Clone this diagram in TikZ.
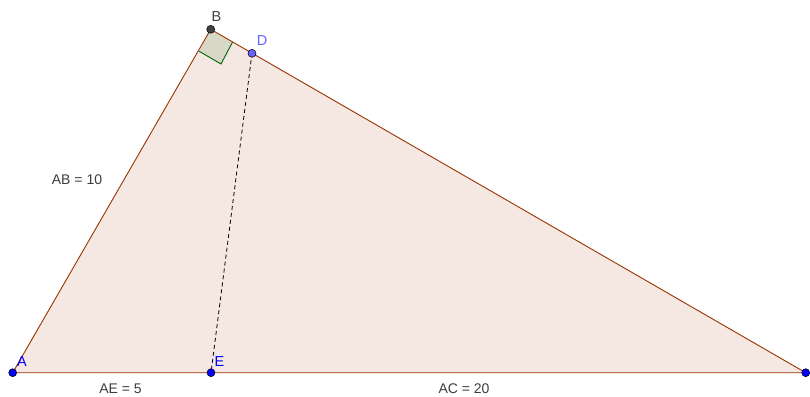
\documentclass[tikz,border=0pt]{standalone}
\usepackage{fontspec}
\setmainfont{Liberation Sans}
\definecolor{edge}{RGB}{153,51,0}
\definecolor{tri}{RGB}{245,231,226}
\definecolor{pt}{RGB}{0,0,255}
\definecolor{ptd}{RGB}{102,102,255}
\definecolor{ptb}{RGB}{64,64,64}
\definecolor{sq}{RGB}{216,216,200}
\definecolor{sqline}{RGB}{0,100,0}
\definecolor{txt}{RGB}{60,60,60}
\tikzset{
  ptdot/.style={circle,draw=black,line width=0.5pt,inner sep=0pt,minimum size=8pt},
  lbl/.style={font=\fontsize{14.5}{15}\selectfont,inner sep=0pt},
  mlbl/.style={font=\fontsize{14}{15}\selectfont,text=txt,inner sep=0pt},
  side/.style={draw=edge,line width=0.9pt}
}
\begin{document}
\begin{tikzpicture}[x=1pt,y=-1pt]
\useasboundingbox (0,0) rectangle (810,396);
\coordinate (A) at (12.7,372.7);
\coordinate (B) at (210.7,29.3);
\coordinate (C) at (805.7,372.7);
\coordinate (D) at (252,53.3);
\coordinate (E) at (211,372.7);
\coordinate (P1) at (199.2,51.3);
\coordinate (Q) at (221,64);
\coordinate (P2) at (232.6,42.0);
\fill[tri] (A) -- (B) -- (C) -- cycle;
\fill[sq] (B) -- (P1) -- (Q) -- (P2) -- cycle;
\draw[sqline,line width=0.9pt] (P1) -- (Q) -- (P2);
\draw[side] (A) -- (B) -- (C) -- cycle;
\draw[dashed,line width=0.8pt,dash pattern=on 4pt off 3pt] (D) -- (E);
\node[ptdot,fill=pt] (nA) at (A) {};
\node[ptdot,fill=pt] (nE) at (E) {};
\node[ptdot,fill=pt] (nC) at (C) {};
\node[ptdot,fill=ptb] (nB) at (B) {};
\node[ptdot,fill=ptd] (nD) at (D) {};
\node[lbl,text=ptb] (lB) at (216.5,17) {B};
\node[lbl,text=ptd] (lD) at (262,41) {D};
\node[lbl,text=pt] (lA) at (22,362) {A};
\node[lbl,text=pt] (lE) at (219.5,362) {E};
\node[mlbl] (ab) at (77,180) {AB = 10};
\node[mlbl] (ae) at (120.5,389) {AE = 5};
\node[mlbl] (ac) at (464,389) {AC = 20};
\end{tikzpicture}
\end{document}
